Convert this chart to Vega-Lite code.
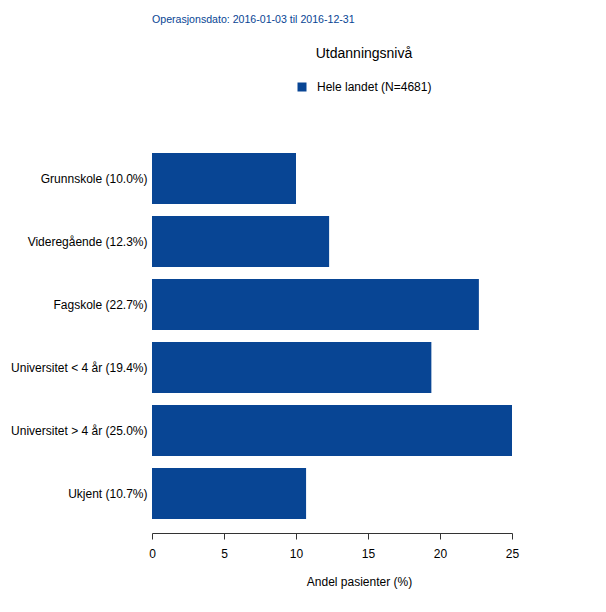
{
  "$schema": "https://vega.github.io/schema/vega-lite/v6.json",
  "autosize": "none",
  "width": 360,
  "height": 378,
  "padding": {"left": 152, "top": 147, "right": 94, "bottom": 87},
  "background": "white",
  "config": {
    "font": "Liberation Sans",
    "view": {"stroke": null}
  },
  "title": {
    "text": "Operasjonsdato: 2016-01-03 til 2016-12-31",
    "anchor": "start",
    "frame": "group",
    "fontSize": 10.6,
    "fontWeight": "normal",
    "color": "#084594",
    "font": "Liberation Sans",
    "baseline": "alphabetic",
    "offset": 13
  },
  "data": {
    "values": [
      {"label": "Grunnskole (10.0%)", "pct": 10.0, "group": "Hele landet (N=4681)"},
      {"label": "Videregående (12.3%)", "pct": 12.3, "group": "Hele landet (N=4681)"},
      {"label": "Fagskole (22.7%)", "pct": 22.7, "group": "Hele landet (N=4681)"},
      {"label": "Universitet < 4 år (19.4%)", "pct": 19.4, "group": "Hele landet (N=4681)"},
      {"label": "Universitet > 4 år (25.0%)", "pct": 25.0, "group": "Hele landet (N=4681)"},
      {"label": "Ukjent (10.7%)", "pct": 10.7, "group": "Hele landet (N=4681)"}
    ]
  },
  "mark": {"type": "bar"},
  "encoding": {
    "y": {
      "field": "label",
      "type": "nominal",
      "sort": null,
      "scale": {"paddingInner": 0.19, "paddingOuter": 0.095},
      "axis": {
        "title": null,
        "domain": false,
        "ticks": false,
        "tickSize": 0,
        "labelPadding": 5,
        "labelFontSize": 12,
        "labelColor": "#000000",
        "labelFont": "Liberation Sans"
      }
    },
    "x": {
      "field": "pct",
      "type": "quantitative",
      "scale": {"domain": [0, 25], "nice": false},
      "axis": {
        "title": "Andel pasienter (%)",
        "values": [0, 5, 10, 15, 20, 25],
        "grid": false,
        "offset": 8,
        "labelFlush": false,
        "domainColor": "#333333",
        "tickColor": "#333333",
        "tickSize": 6,
        "labelPadding": 9,
        "labelFontSize": 12,
        "labelColor": "#000000",
        "labelFont": "Liberation Sans",
        "titleFontSize": 12,
        "titleFontWeight": "normal",
        "titleColor": "#000000",
        "titleFont": "Liberation Sans",
        "titleX": 207,
        "titlePadding": 17
      }
    },
    "color": {
      "field": "group",
      "type": "nominal",
      "scale": {"range": ["#084594"]},
      "legend": {
        "title": "Utdanningsnivå",
        "orient": "none",
        "legendX": 144,
        "legendY": -100,
        "symbolType": "square",
        "symbolSize": 81,
        "symbolStrokeWidth": 0,
        "labelFontSize": 12,
        "labelOffset": 9,
        "labelColor": "#000000",
        "labelFont": "Liberation Sans",
        "titleFontSize": 14,
        "titleFontWeight": "normal",
        "titleColor": "#000000",
        "titleFont": "Liberation Sans",
        "titleAnchor": "middle",
        "titlePadding": 20
      }
    }
  }
}
